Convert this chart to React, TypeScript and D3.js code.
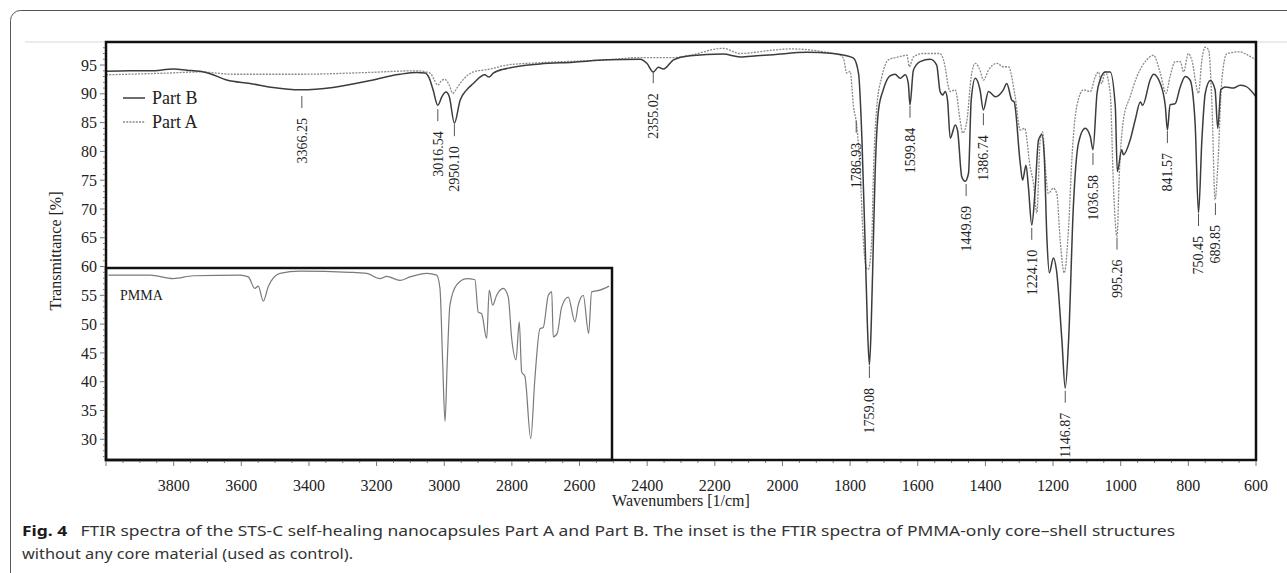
import React, { useRef, useEffect } from "react";
import * as d3 from "d3";

// wavenumber [1/cm], transmittance [%]
const partB: [number, number][] = [
  [4000, 93.9], [3930, 94.0], [3870, 94.0], [3800, 94.3], [3760, 94.1], [3722, 93.9], [3692, 93.5],
  [3643, 92.4], [3574, 91.8], [3506, 91.1], [3426, 90.7], [3329, 91.1], [3229, 92.2], [3131, 93.4],
  [3081, 93.7], [3057, 93.6], [3045, 92.8], [3033, 90.7], [3019, 88.0], [3006, 89.6], [2995, 90.3],
  [2985, 89.5], [2970, 84.9], [2953, 88.9], [2935, 90.6], [2914, 91.8], [2880, 93.3], [2868, 92.9],
  [2855, 93.6], [2815, 94.4], [2717, 95.2], [2619, 95.5], [2519, 95.9], [2421, 96.0], [2401, 95.3],
  [2382, 93.8], [2367, 94.6], [2352, 94.3], [2322, 95.9], [2273, 96.6], [2176, 96.9], [2125, 96.4],
  [2076, 96.6], [2027, 96.8], [1928, 97.2], [1850, 97.0], [1810, 96.6], [1790, 96.2], [1775, 93.5],
  [1765, 82.0], [1756, 64.6], [1749, 50.0], [1743, 42.9], [1738, 49.0], [1731, 65.0], [1726, 76.3],
  [1716, 87.2], [1702, 90.7], [1682, 93.1], [1667, 93.4], [1652, 92.7], [1637, 93.3], [1628, 91.8],
  [1623, 88.1], [1613, 94.1], [1593, 95.6], [1563, 96.0], [1544, 95.0], [1534, 90.4], [1526, 89.8],
  [1519, 90.4], [1512, 88.9], [1504, 82.3], [1489, 84.6], [1482, 83.5], [1470, 75.6], [1460, 74.8],
  [1450, 76.2], [1442, 88.9], [1430, 92.7], [1416, 90.7], [1406, 87.2], [1391, 90.4], [1371, 89.5],
  [1347, 90.7], [1337, 91.8], [1322, 88.9], [1315, 88.6], [1297, 77.9], [1290, 75.0], [1280, 77.6],
  [1273, 73.9], [1263, 67.2], [1253, 73.3], [1243, 82.0], [1233, 82.9], [1226, 79.1], [1218, 64.6],
  [1211, 58.9], [1199, 61.5], [1190, 59.4], [1174, 47.3], [1164, 38.9], [1154, 47.3], [1140, 70.4],
  [1125, 81.4], [1105, 84.0], [1090, 82.6], [1082, 80.3], [1070, 90.1], [1061, 92.4], [1046, 93.8],
  [1031, 93.8], [1016, 87.8], [1010, 76.5], [997, 80.3], [992, 79.4], [972, 82.0], [957, 85.5],
  [942, 88.6], [935, 88.0], [913, 92.4], [903, 93.4], [883, 91.8], [868, 87.8], [862, 83.7],
  [854, 88.1], [839, 88.3], [824, 91.2], [809, 93.0], [795, 92.4], [780, 84.9], [770, 69.3],
  [760, 82.0], [750, 90.1], [735, 92.3], [721, 90.7], [713, 84.0], [704, 90.7], [691, 91.2],
  [667, 91.0], [647, 91.5], [630, 91.3], [600, 89.5]
];

const partA: [number, number][] = [
  [4000, 93.3], [3820, 93.6], [3722, 93.8], [3624, 93.4], [3426, 93.4], [3229, 93.7], [3081, 94.0],
  [3042, 93.6], [3030, 92.5], [3019, 91.5], [3008, 92.3], [2998, 92.5], [2985, 91.5], [2975, 90.1],
  [2960, 91.2], [2953, 91.8], [2914, 93.8], [2864, 94.3], [2815, 95.0], [2717, 95.4], [2519, 95.9],
  [2421, 96.3], [2322, 96.3], [2273, 96.7], [2176, 97.9], [2125, 97.0], [2027, 97.6], [1977, 97.8],
  [1879, 97.3], [1830, 96.7], [1820, 96.2], [1810, 93.6], [1800, 93.9], [1790, 87.8], [1780, 84.3],
  [1770, 76.2], [1761, 64.6], [1751, 59.7], [1746, 59.5], [1736, 64.6], [1731, 76.2], [1721, 87.8],
  [1706, 93.0], [1687, 95.9], [1657, 96.4], [1632, 96.7], [1625, 94.7], [1613, 96.4], [1584, 97.0],
  [1534, 97.0], [1524, 95.9], [1504, 90.4], [1489, 90.7], [1475, 85.5], [1467, 83.2], [1455, 85.2],
  [1442, 93.0], [1430, 95.3], [1416, 94.1], [1406, 92.4], [1391, 94.1], [1366, 95.3], [1347, 94.7],
  [1332, 94.7], [1312, 89.5], [1297, 83.7], [1284, 84.0], [1268, 77.4], [1258, 74.5], [1248, 69.3],
  [1238, 82.0], [1231, 83.4], [1223, 77.4], [1214, 72.7], [1199, 73.6], [1189, 72.7], [1179, 64.6],
  [1167, 58.9], [1154, 66.9], [1144, 79.1], [1130, 87.8], [1110, 90.7], [1090, 90.4], [1075, 93.0],
  [1066, 93.8], [1056, 91.8], [1046, 93.8], [1031, 90.1], [1021, 73.3], [1011, 65.2], [1004, 76.2],
  [992, 85.5], [972, 89.5], [952, 93.0], [923, 95.9], [903, 96.7], [883, 93.6], [866, 90.1],
  [854, 93.0], [839, 95.6], [824, 95.6], [814, 93.8], [800, 97.0], [790, 95.9], [770, 90.1],
  [760, 95.9], [750, 98.1], [740, 97.6], [730, 87.8], [721, 71.6], [713, 77.4], [701, 92.4],
  [686, 97.0], [647, 97.3], [630, 96.9], [600, 95.9]
];

// inset, read against the main transmittance axis
const pmma: [number, number][] = [
  [3984, 58.5], [3704, 58.5], [3548, 57.9], [3413, 58.4], [3100, 58.5], [3044, 58.2], [3000, 56.2],
  [2977, 56.6], [2943, 54.0], [2910, 56.5], [2831, 58.8], [2697, 59.2], [2361, 59.0], [2248, 58.8],
  [2159, 57.9], [2114, 58.3], [2025, 57.6], [1957, 58.2], [1845, 58.8], [1778, 58.5], [1756, 56.2],
  [1738, 43.5], [1722, 33.1], [1707, 43.5], [1689, 53.3], [1644, 56.8], [1577, 57.9], [1521, 57.7],
  [1499, 52.1], [1476, 51.8], [1442, 47.5], [1425, 55.9], [1402, 53.3], [1375, 55.0], [1331, 56.2],
  [1297, 54.7], [1274, 47.5], [1245, 43.8], [1223, 50.4], [1207, 41.7], [1185, 40.9], [1146, 30.1],
  [1118, 40.6], [1084, 49.2], [1062, 49.4], [1028, 55.0], [1005, 55.6], [995, 47.8], [968, 48.4],
  [938, 53.0], [894, 54.7], [849, 50.4], [827, 53.3], [793, 55.0], [757, 48.4], [737, 55.6],
  [681, 55.9], [620, 56.6]
];

const peakLabels = ["3366.25", "3016.54", "2950.10", "2355.02", "1786.93", "1759.08", "1599.84", "1449.69",
  "1386.74", "1224.10", "1146.87", "1036.58", "995.26", "841.57", "750.45", "689.85"];
// where the marker sits on the drawn trace
const peakAt = [3421, 3019, 2970, 2382, 1782, 1743, 1623, 1457, 1406, 1263, 1164, 1082, 1011, 862, 770, 720];
const peakTip = [89.8, 87.5, 84.9, 94.1, 85.5, 42.9, 88.1, 74.5, 86.8, 66.9, 38.6, 79.9, 65.2, 83.7, 69.3, 71.2];

const yTicks = [30, 35, 40, 45, 50, 55, 60, 65, 70, 75, 80, 85, 90, 95];
const xTicks = [3800, 3600, 3400, 3200, 3000, 2800, 2600, 2400, 2200, 2000, 1800, 1600, 1400, 1200, 1000, 800, 600];

const serif = "'Liberation Serif', 'Times New Roman', serif";

const App = () => {
  const ref = useRef<SVGSVGElement>(null);

  useEffect(() => {
    const svg = d3.select(ref.current);
    svg.selectAll("*").remove();

    const width = 1287;
    const height = 573;
    const left = 106, right = 1256, top = 42, bottom = 460;
    const insetRight = 612, insetTop = 268;

    svg.attr("width", width).attr("height", height);

    // card frame
    svg.append("rect")
      .attr("x", 10.5).attr("y", 10.5)
      .attr("width", 1400).attr("height", 700)
      .attr("rx", 10)
      .attr("fill", "none")
      .attr("stroke", "#555")
      .attr("stroke-width", 1);

    svg.append("line")
      .attr("x1", 25).attr("x2", width)
      .attr("y1", top).attr("y2", top)
      .attr("stroke", "#d8d8d8");

    const x = d3.scaleLinear().domain([4000, 600]).range([left, right]);
    const y = d3.scaleLinear().domain([26.4, 99]).range([bottom, top]);
    const xInset = d3.scaleLinear().domain([4000, 600]).range([left, insetRight]);

    svg.append("rect")
      .attr("x", left).attr("y", top)
      .attr("width", right - left).attr("height", bottom - top)
      .attr("fill", "white");

    svg.append("clipPath").attr("id", "plot-clip")
      .append("rect")
      .attr("x", left).attr("y", top)
      .attr("width", right - left).attr("height", bottom - top);

    const line = d3.line<[number, number]>()
      .x((d) => x(d[0]))
      .y((d) => y(d[1]))
      .curve(d3.curveMonotoneX);

    const plot = svg.append("g").attr("clip-path", "url(#plot-clip)");

    plot.append("path")
      .datum(partA)
      .attr("d", line)
      .attr("fill", "none")
      .attr("stroke", "#8a8a8a")
      .attr("stroke-width", 1.3)
      .attr("stroke-dasharray", "2,1.2");

    plot.append("path")
      .datum(partB)
      .attr("d", line)
      .attr("fill", "none")
      .attr("stroke", "#3c3c3c")
      .attr("stroke-width", 1.5);

    // peak markers
    peakLabels.forEach((label, i) => {
      const px = x(peakAt[i]);
      const py = y(peakTip[i]) + 1;
      svg.append("line")
        .attr("x1", px).attr("x2", px)
        .attr("y1", py).attr("y2", py + 12)
        .attr("stroke", "#555")
        .attr("stroke-width", 1);
      svg.append("text")
        .attr("transform", `translate(${px},${py + 22}) rotate(-90)`)
        .attr("text-anchor", "end")
        .attr("dy", "0.35em")
        .attr("font-family", serif)
        .attr("font-size", "14px")
        .attr("fill", "#222")
        .text(label);
    });

    // legend
    const legend = [
      { name: "Part B", dash: null, color: "#3c3c3c", w: 1.5 },
      { name: "Part A", dash: "2,1.2", color: "#8a8a8a", w: 1.3 }
    ];
    legend.forEach((d, i) => {
      const ly = 98 + i * 24;
      svg.append("line")
        .attr("x1", 123).attr("x2", 145)
        .attr("y1", ly).attr("y2", ly)
        .attr("stroke", d.color)
        .attr("stroke-width", d.w)
        .attr("stroke-dasharray", d.dash);
      svg.append("text")
        .attr("x", 152).attr("y", ly + 6)
        .attr("font-family", serif)
        .attr("font-size", "18px")
        .attr("fill", "#222")
        .text(d.name);
    });

    // inset
    svg.append("rect")
      .attr("x", left).attr("y", insetTop)
      .attr("width", insetRight - left).attr("height", bottom - insetTop)
      .attr("fill", "white")
      .attr("stroke", "#111")
      .attr("stroke-width", 2.5);

    const insetLine = d3.line<[number, number]>()
      .x((d) => xInset(d[0]))
      .y((d) => y(d[1]))
      .curve(d3.curveMonotoneX);

    svg.append("path")
      .datum(pmma)
      .attr("d", insetLine)
      .attr("fill", "none")
      .attr("stroke", "#7a7a7a")
      .attr("stroke-width", 1.2);

    svg.append("text")
      .attr("x", 120).attr("y", 300)
      .attr("font-family", serif)
      .attr("font-size", "14px")
      .attr("fill", "#222")
      .text("PMMA");

    // plot border
    svg.append("rect")
      .attr("x", left).attr("y", top)
      .attr("width", right - left).attr("height", bottom - top)
      .attr("fill", "none")
      .attr("stroke", "#111")
      .attr("stroke-width", 2.5);

    // y axis
    const yMinor = d3.range(27, 99, 1);
    svg.append("g").selectAll("line")
      .data(yMinor)
      .enter()
      .append("line")
      .attr("x1", (d) => left - (d % 5 === 0 ? 6 : 3))
      .attr("x2", left - 1)
      .attr("y1", (d) => y(d)).attr("y2", (d) => y(d))
      .attr("stroke", "#777")
      .attr("stroke-width", 1);

    svg.append("g").selectAll("text")
      .data(yTicks)
      .enter()
      .append("text")
      .attr("x", 97)
      .attr("y", (d) => y(d))
      .attr("dy", "0.35em")
      .attr("text-anchor", "end")
      .attr("font-family", serif)
      .attr("font-size", "16px")
      .attr("fill", "#222")
      .text((d) => d);

    svg.append("text")
      .attr("transform", `translate(55,${(top + bottom) / 2}) rotate(-90)`)
      .attr("text-anchor", "middle")
      .attr("dy", "0.35em")
      .attr("font-family", serif)
      .attr("font-size", "16px")
      .attr("fill", "#222")
      .text("Transmittance [%]");

    // x axis
    const xMinor = d3.range(4000, 599, -50);
    svg.append("g").selectAll("line")
      .data(xMinor)
      .enter()
      .append("line")
      .attr("x1", (d) => x(d)).attr("x2", (d) => x(d))
      .attr("y1", bottom + 1)
      .attr("y2", (d) => bottom + (d % 200 === 0 ? 6 : 3))
      .attr("stroke", "#777")
      .attr("stroke-width", 1);

    svg.append("g").selectAll("text")
      .data(xTicks)
      .enter()
      .append("text")
      .attr("x", (d) => x(d))
      .attr("y", 491)
      .attr("text-anchor", "middle")
      .attr("font-family", serif)
      .attr("font-size", "16px")
      .attr("fill", "#222")
      .text((d) => d);

    svg.append("text")
      .attr("x", (left + right) / 2)
      .attr("y", 506)
      .attr("text-anchor", "middle")
      .attr("font-family", serif)
      .attr("font-size", "16px")
      .attr("fill", "#222")
      .text("Wavenumbers [1/cm]");

    // caption
    const cap = svg.append("text")
      .attr("x", 22).attr("y", 536)
      .attr("font-family", "'Noto Sans', 'Open Sans', sans-serif")
      .attr("font-size", "15px")
      .attr("fill", "#333")
      .attr("textLength", 1153)
      .attr("lengthAdjust", "spacingAndGlyphs");
    cap.append("tspan")
      .attr("font-weight", "bold")
      .attr("fill", "#1a1a1a")
      .text("Fig. 4");
    cap.append("tspan")
      .text("\u2002 FTIR spectra of the STS-C self-healing nanocapsules Part A and Part B. The inset is the FTIR spectra of PMMA-only core\u2013shell structures");

    svg.append("text")
      .attr("x", 22).attr("y", 559)
      .attr("font-family", "'Noto Sans', 'Open Sans', sans-serif")
      .attr("font-size", "15px")
      .attr("fill", "#333")
      .attr("textLength", 331)
      .attr("lengthAdjust", "spacingAndGlyphs")
      .text("without any core material (used as control).");
  }, []);

  return (
    <div style={{ position: "absolute", left: 0, top: 0 }}>
      <svg ref={ref} style={{ display: "block" }}></svg>
    </div>
  );
};

export default App;
